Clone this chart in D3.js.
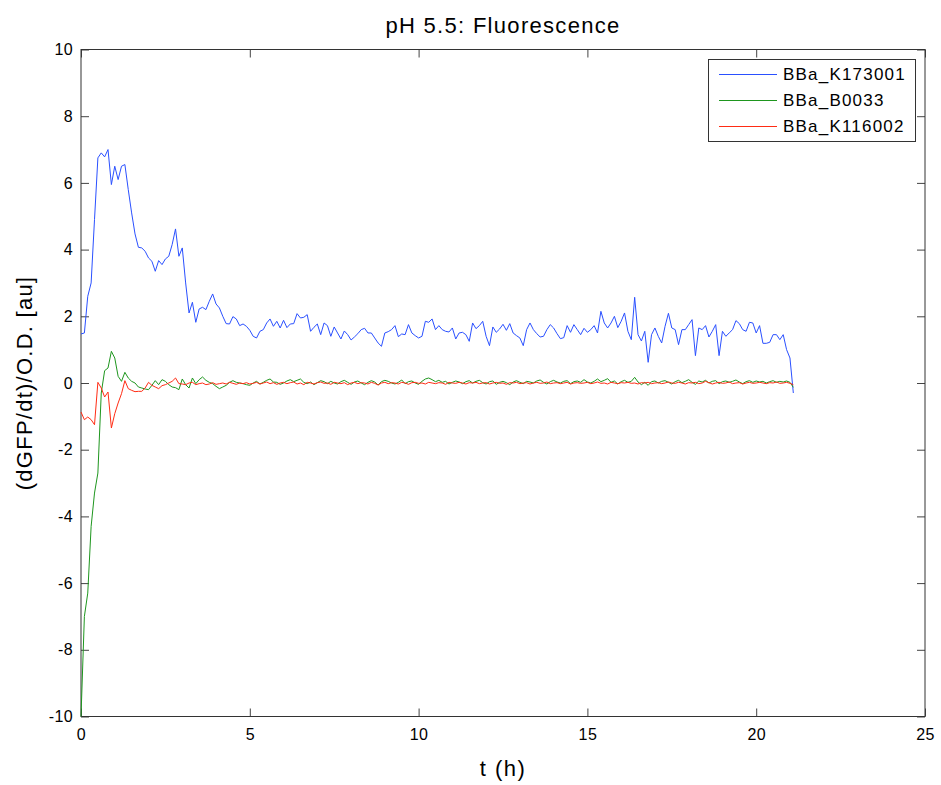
<!DOCTYPE html>
<html>
<head>
<meta charset="utf-8">
<script src="https://cdn.jsdelivr.net/npm/d3@7"></script>
<style>
  body { margin: 0; background: #fff; }
  text { font-family: "Liberation Sans", Arial, Helvetica, sans-serif; }
</style>
</head>
<body>
<svg id="chart" width="941" height="785"></svg>
<script>
// sample spacing of the measurements, in hours
var step = 0.1;

var seriesNames = ["BBa_K173001", "BBa_B0033", "BBa_K116002"];
var seriesColors = ["#2a50ff", "#1e961e", "#ff2c14"];

var xTicks = [0, 5, 10, 15, 20, 25];
var yTicks = [-10, -8, -6, -4, -2, 0, 2, 4, 6, 8, 10];

// BBa_K173001 (one value per 0.1 h, from t = 0)
var blue = [
  1.47, 1.50, 2.6, 3.0, 4.9, 6.75, 6.9, 6.78, 7.0, 5.95,
  6.5, 6.1, 6.5, 6.55, 5.8, 5.1, 4.47, 4.07, 4.05, 3.95,
  3.75, 3.65, 3.35, 3.67, 3.55, 3.72, 3.8, 4.15, 4.62, 3.8,
  4.05, 3.0, 2.1, 2.42, 1.82, 2.22, 2.27, 2.2, 2.45, 2.67,
  2.37, 2.25, 2.0, 1.78, 1.77, 1.99, 1.92, 1.72, 1.77, 1.7,
  1.58, 1.4, 1.35, 1.55, 1.6, 1.8, 1.92, 1.7, 1.85, 1.65,
  1.88, 1.66, 1.77, 1.78, 2.08, 1.95, 1.97, 2.05, 1.55, 1.67,
  1.77, 1.45, 1.8, 1.72, 1.4, 1.68, 1.5, 1.32, 1.56, 1.45,
  1.29, 1.38, 1.48, 1.6, 1.64, 1.5, 1.5, 1.35, 1.2, 1.1,
  1.5, 1.54, 1.6, 1.72, 1.39, 1.47, 1.45, 1.75, 1.5, 1.42,
  1.35, 1.4, 1.85, 1.82, 1.92, 1.6, 1.72, 1.6, 1.55, 1.53,
  1.65, 1.32, 1.5, 1.52, 1.45, 1.25, 1.8, 1.63, 1.72, 1.85,
  1.4, 1.12, 1.68, 1.52, 1.62, 1.76, 1.58, 1.78, 1.5, 1.42,
  1.35, 1.12, 1.6, 1.8, 1.6, 1.48, 1.38, 1.4, 1.6, 1.75,
  1.65, 1.48, 1.33, 1.36, 1.72, 1.52, 1.75, 1.6, 1.45, 1.64,
  1.52, 1.6, 1.72, 1.5, 2.15, 1.8, 1.65, 1.8, 2.0, 1.66,
  1.85, 2.1, 1.55, 1.3, 2.57, 1.45, 1.26, 1.55, 0.62, 1.45,
  1.65, 1.4, 1.2, 1.7, 2.09, 1.65, 1.6, 1.15, 1.6, 1.6,
  1.75, 1.9, 0.82, 1.65, 1.6, 1.72, 1.38, 1.55, 1.75, 0.82,
  1.55, 1.4, 1.5, 1.6, 1.87, 1.78, 1.6, 1.55, 1.82, 1.8,
  1.5, 1.72, 1.19, 1.19, 1.22, 1.45, 1.45, 1.3, 1.45, 1.0,
  0.75, -0.3
];

// BBa_B0033
var green = [
  -10.0, -7.0, -6.3, -4.3, -3.3, -2.7, -0.3, 0.37, 0.45, 0.95,
  0.75, 0.2, 0.05, 0.32, 0.15, 0.05, 0.0, -0.12, -0.15, -0.18,
  -0.2, -0.07, 0.07, -0.05, 0.1, 0.05, -0.05, -0.12, -0.14, -0.2,
  0.12, -0.05, -0.15, 0.15, -0.02, 0.1, 0.18, 0.08, 0.02, -0.02,
  -0.1, -0.17, -0.12, -0.07, 0.02, 0.07, 0.02, 0.0, -0.02, -0.05,
  -0.07,
  0.0, 0.05, -0.03, 0.02, 0.08, 0.12, 0.03, 0.02, -0.04, 0.0,
  0.06, 0.1, 0.04, 0.08, 0.12, 0.02, -0.02, 0.03, -0.05, 0.01,
  0.07, 0.04, -0.02, 0.05, 0.0, -0.03, 0.04, 0.08, 0.02, -0.04,
  0.03, 0.06, 0.0, -0.05, 0.02, 0.07, 0.03, -0.06, 0.04, 0.08,
  0.05, 0.0, -0.03, 0.02, 0.09, -0.02, 0.04, 0.06, 0.0, -0.04,
  0.05, 0.12, 0.15, 0.1, 0.04, 0.08, 0.02, 0.05, -0.03, 0.02,
  0.06, 0.03, -0.02, 0.04, 0.07, 0.0, 0.05, 0.08, 0.01, -0.03,
  0.04, 0.06, -0.04, 0.02, 0.05, 0.01, -0.05, 0.03, 0.07, 0.02,
  -0.02, 0.05, 0.03, 0.0, 0.06, 0.09, 0.02, -0.03, 0.04, 0.08,
  0.03, 0.0, 0.05, 0.07, -0.02, 0.04, 0.06, 0.02, 0.1, 0.03,
  0.0, 0.05, 0.12, 0.04, 0.08, 0.13, 0.02, 0.06, -0.03, 0.04,
  0.08, 0.02, 0.05, 0.17, 0.03, -0.05, 0.02, -0.07, 0.04, 0.06,
  0.0, 0.05, 0.07, 0.02, -0.03, 0.04, 0.08, 0.01, 0.05, 0.1,
  0.02, -0.04, 0.06, 0.03, 0.08, 0.0, 0.05, 0.07, -0.02, 0.04,
  0.06, 0.02, 0.05, 0.09, 0.03, -0.02, 0.04, 0.07, 0.02, 0.06,
  0.03, 0.05, 0.0, 0.04, 0.07, 0.02, 0.05, 0.03, 0.06, 0.02, -0.13
];

// BBa_K116002
var red = [
  -0.87, -1.1, -1.02, -1.1, -1.25, 0.02, -0.15, -0.42, -0.27, -1.35,
  -0.92, -0.6, -0.32, 0.07, -0.17, -0.22, -0.26, -0.25, -0.25, -0.15,
  0.02, -0.07, -0.12, -0.17, -0.08, -0.05, 0.0, 0.05, 0.15, -0.02,
  -0.03, -0.05, 0.0, 0.02, -0.05, -0.02, 0.0, -0.05, -0.03, 0.01,
  -0.04, -0.02, 0.0, -0.03, 0.02, -0.01, -0.04, 0.0, -0.02, 0.01,
  -0.03,
  -0.01, 0.02, -0.03, 0.0, 0.03, -0.02, 0.01, -0.04, 0.0, 0.02,
  -0.02, 0.01, 0.03, -0.03, 0.0, -0.05, 0.02, 0.0, -0.03, 0.01,
  0.03, -0.01, 0.0, -0.04, 0.02, 0.0, -0.02, 0.01, -0.05, 0.0,
  0.02, -0.02, 0.01, 0.0, -0.03, 0.02, -0.01, -0.06, 0.0, 0.02,
  -0.02, 0.01, 0.0, -0.03, 0.02, 0.0, -0.04, 0.01, 0.02, -0.01,
  0.0, -0.03, 0.02, 0.0, -0.02, 0.01, 0.0, -0.04, 0.02, 0.0,
  -0.01, 0.02, 0.0, -0.03, 0.01, 0.0, 0.02, -0.02, 0.0, 0.01,
  -0.03, 0.0, 0.02, -0.01, 0.0, -0.04, 0.01, 0.0, 0.02, -0.02,
  0.0, 0.01, -0.03, 0.0, 0.02, -0.01, 0.0, 0.03, -0.02, 0.0,
  0.01, -0.02, 0.0, 0.02, -0.03, 0.0, 0.01, -0.01, 0.0, 0.02,
  -0.02, 0.0, 0.03, -0.01, 0.0, -0.03, 0.02, 0.0, -0.02, 0.01,
  0.0, 0.02, -0.01, 0.0, -0.03, 0.01, 0.0, 0.02, -0.02, 0.0,
  0.01, -0.02, 0.0, 0.03, 0.0, -0.01, 0.02, 0.0, -0.03, 0.01,
  0.0, 0.02, -0.02, 0.0, 0.05, 0.01, -0.03, 0.0, 0.02, -0.01,
  0.0, 0.03, -0.02, 0.0, 0.01, -0.03, 0.0, 0.02, -0.01, 0.0,
  0.02, 0.0, -0.02, 0.01, 0.0, 0.03, -0.01, 0.0, 0.02, -0.01, -0.05
];

var allSeries = [blue, green, red];

var svg = d3.select("#chart");

// plot box
var plotLeft = 81, plotRight = 925, plotTop = 49.5, plotBottom = 716.5;

var x = d3.scaleLinear().domain([0, 25]).range([plotLeft, plotRight]);
var y = d3.scaleLinear().domain([-10, 10]).range([plotBottom, plotTop]);

// plain hyphen for negatives, like the original
function plainNum(d) { return String(d); }

function styleAxis(g) {
    g.select(".domain").remove();
    g.selectAll(".tick line").attr("stroke", "#444");
    g.selectAll(".tick text")
        .attr("fill", "#000")
        .style("font-size", "16px")
        .style("letter-spacing", "0.4px")
        .style("font-family", "'Liberation Sans', Arial, Helvetica, sans-serif");
}

// ticks on all four sides, pointing inward
svg.append("g")
    .attr("transform", "translate(0," + plotBottom + ")")
    .call(d3.axisBottom(x).tickValues(xTicks).tickFormat(plainNum).tickSizeInner(-8).tickSizeOuter(0).tickPadding(12))
    .call(styleAxis);
svg.append("g")
    .attr("transform", "translate(0," + plotTop + ")")
    .call(d3.axisTop(x).tickValues(xTicks).tickSizeInner(-8).tickSizeOuter(0).tickFormat(""))
    .call(styleAxis);
svg.append("g")
    .attr("transform", "translate(" + plotLeft + ",0)")
    .call(d3.axisLeft(y).tickValues(yTicks).tickFormat(plainNum).tickSizeInner(-8).tickSizeOuter(0).tickPadding(8))
    .call(styleAxis);
svg.append("g")
    .attr("transform", "translate(" + plotRight + ",0)")
    .call(d3.axisRight(y).tickValues(yTicks).tickSizeInner(-8).tickSizeOuter(0).tickFormat(""))
    .call(styleAxis);

// frame
svg.append("rect")
    .attr("x", plotLeft).attr("y", plotTop)
    .attr("width", plotRight - plotLeft).attr("height", plotBottom - plotTop)
    .attr("fill", "none")
    .attr("stroke", "#333")
    .attr("stroke-width", 1);

var line = d3.line()
    .x(function(d, i) { return x(i * step); })
    .y(function(d) { return y(d); });

svg.selectAll(".series")
    .data(allSeries)
    .enter().append("path")
    .attr("class", "series")
    .attr("d", line)
    .attr("fill", "none")
    .attr("stroke", function(d, i) { return seriesColors[i]; })
    .attr("stroke-width", 1);

// title and axis labels
svg.append("text")
    .attr("x", (plotLeft + plotRight) / 2).attr("y", 33)
    .attr("text-anchor", "middle")
    .style("font-size", "22px")
    .style("letter-spacing", "1.3px")
    .text("pH 5.5: Fluorescence");

svg.append("text")
    .attr("x", (plotLeft + plotRight) / 2).attr("y", 776)
    .attr("text-anchor", "middle")
    .style("font-size", "22px")
    .style("letter-spacing", "1.5px")
    .text("t (h)");

svg.append("text")
    .attr("transform", "translate(32," + ((plotTop + plotBottom) / 2) + ") rotate(-90)")
    .attr("text-anchor", "middle")
    .style("font-size", "22px")
    .style("letter-spacing", "1.25px")
    .text("(dGFP/dt)/O.D. [au]");

// legend
var legend = svg.append("g");
legend.append("rect")
    .attr("x", 708.5).attr("y", 59.5)
    .attr("width", 207).attr("height", 82)
    .attr("fill", "#fff")
    .attr("stroke", "#333");

var rows = legend.selectAll(".row")
    .data(seriesNames)
    .enter().append("g")
    .attr("class", "row")
    .attr("transform", function(d, i) { return "translate(0," + (74.5 + i * 26) + ")"; });

rows.append("line")
    .attr("x1", 719).attr("x2", 777)
    .attr("stroke", function(d, i) { return seriesColors[i]; })
    .attr("stroke-width", 1);

rows.append("text")
    .attr("x", 783).attr("dy", "0.35em")
    .style("font-size", "17px")
    .style("letter-spacing", "1.2px")
    .text(function(d) { return d; });
</script>
</body>
</html>
